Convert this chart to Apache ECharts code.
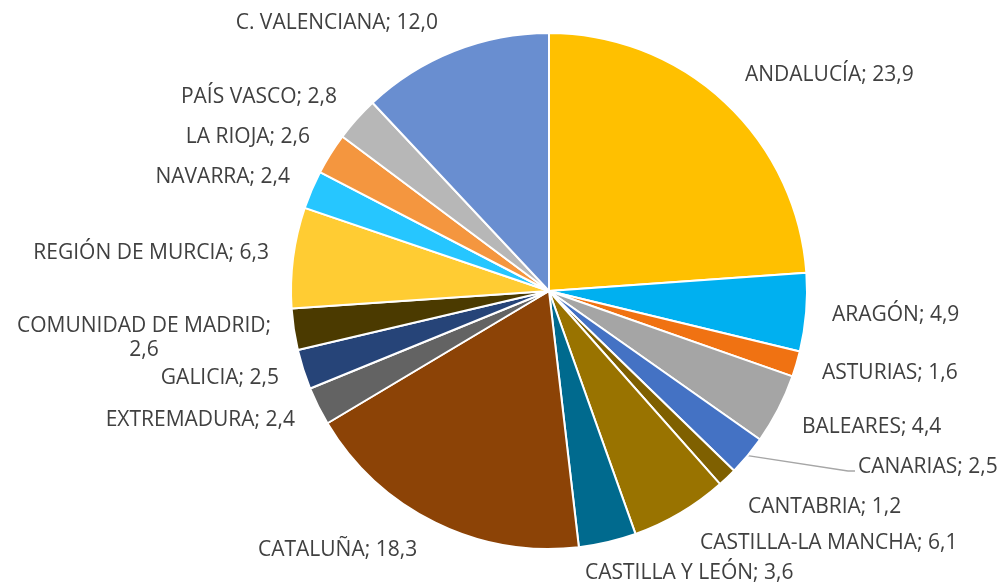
<!DOCTYPE html>
<html>
<head>
<meta charset="utf-8">
<script src="https://cdn.jsdelivr.net/npm/echarts@6/dist/echarts.min.js"></script>
<style>
  html, body { margin: 0; padding: 0; background: #fff; }
  #chart { width: 1004px; height: 587px; }
</style>
</head>
<body>
<div id="chart"></div>
<script>
// regiones y porcentajes (sentido horario desde arriba)
const regiones = ['ANDALUCÍA', 'ARAGÓN', 'ASTURIAS', 'BALEARES', 'CANARIAS', 'CANTABRIA',
  'CASTILLA-LA MANCHA', 'CASTILLA Y LEÓN', 'CATALUÑA', 'EXTREMADURA', 'GALICIA',
  'COMUNIDAD DE MADRID', 'REGIÓN DE MURCIA', 'NAVARRA', 'LA RIOJA', 'PAÍS VASCO', 'C. VALENCIANA'];
const valores = [23.9, 4.9, 1.6, 4.4, 2.5, 1.2, 6.1, 3.6, 18.3, 2.4, 2.5, 2.6, 6.3, 2.4, 2.6, 2.8, 12.0];
const colores = ['#FFC000', '#00B0F0', '#F07212', '#A5A5A5', '#4472C4', '#7F6000',
  '#997300', '#006A8E', '#8C4306', '#636363', '#264478',
  '#4B3A00', '#FFCC33', '#26C6FF', '#F4963F', '#B7B7B7', '#698ED0'];

// colocación de las etiquetas (x, y, alineación), como en el original
const posEtiquetas = {
  'ANDALUCÍA': [745, 75, 'left'],
  'ARAGÓN': [832, 315, 'left'],
  'ASTURIAS': [822, 373, 'left'],
  'BALEARES': [802, 427, 'left'],
  'CANARIAS': [858, 467, 'left'],
  'CANTABRIA': [748, 507, 'left'],
  'CASTILLA-LA MANCHA': [700, 543, 'left'],
  'CASTILLA Y LEÓN': [585, 573, 'left'],
  'CATALUÑA': [258, 550, 'left'],
  'EXTREMADURA': [295, 420, 'right'],
  'GALICIA': [279, 378, 'right'],
  'COMUNIDAD DE MADRID': [271, 338, 'right'],
  'REGIÓN DE MURCIA': [269, 253, 'right'],
  'NAVARRA': [290, 177, 'right'],
  'LA RIOJA': [310, 137, 'right'],
  'PAÍS VASCO': [337, 97, 'right'],
  'C. VALENCIANA': [438, 23, 'right']
};

const fmt = v => v.toFixed(1).replace('.', ',');
const fuente = { fontFamily: 'Open Sans', fontSize: 21, color: '#404040' };

const chart = echarts.init(document.getElementById('chart'));
chart.setOption({
  animation: false,
  series: [{
    type: 'pie',
    center: [549, 291],
    radius: 258,
    startAngle: 90,
    clockwise: true,
    avoidLabelOverlap: false,
    itemStyle: { borderColor: '#fff', borderWidth: 2 },
    label: Object.assign({
      show: true,
      position: 'outside',
      formatter: p => p.name === 'COMUNIDAD DE MADRID'
        ? '{a|' + p.name + ';}\n{b|' + fmt(p.value) + '}'
        : p.name + '; ' + fmt(p.value),
      rich: {
        a: Object.assign({ lineHeight: 24 }, fuente),
        b: Object.assign({ lineHeight: 24, align: 'center' }, fuente)
      }
    }, fuente),
    labelLine: { show: false, length: 10, length2: 0 },
    labelLayout: params => {
      const name = regiones[params.dataIndex];
      const pos = posEtiquetas[name];
      const out = { x: pos[0], y: pos[1], align: pos[2], verticalAlign: 'middle', hideOverlap: false };
      if (name === 'CANARIAS' && params.labelLinePoints) {
        out.labelLinePoints = [params.labelLinePoints[0], [848, 471], [855, 471]];
      }
      return out;
    },
    data: regiones.map((r, i) => {
      const d = { name: r, value: valores[i], itemStyle: { color: colores[i] } };
      if (r === 'CANARIAS') {
        d.labelLine = { show: true, lineStyle: { color: '#A6A6A6', width: 1.5 } };
      }
      return d;
    })
  }]
});
</script>
</body>
</html>
